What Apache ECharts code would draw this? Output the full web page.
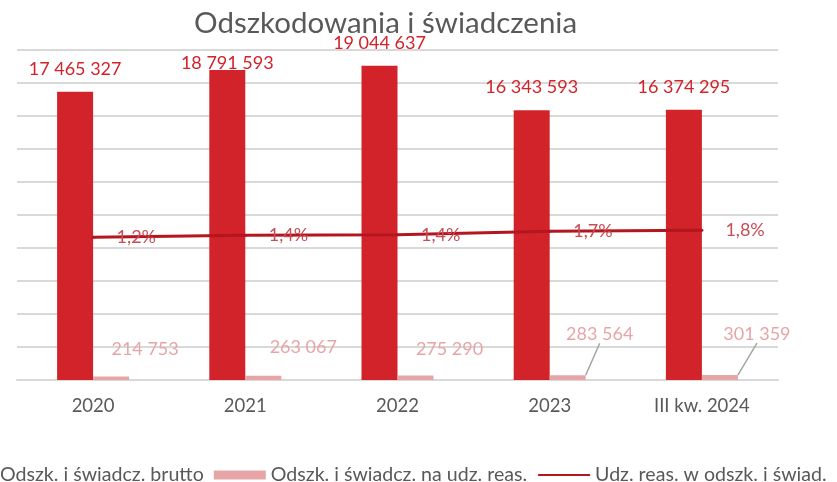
<!DOCTYPE html>
<html>
<head>
<meta charset="utf-8">
<script src="https://cdn.jsdelivr.net/npm/echarts@6/dist/echarts.min.js"></script>
<style>
    html, body { margin: 0; padding: 0; background: #fff; }
    #odszkodowania { width: 837px; height: 482px; }
</style>
</head>
<body>
<div id="odszkodowania"></div>
<script>
// dane
var categories = ['2020', '2021', '2022', '2023', 'III kw. 2024'];
var brutto = [17465327, 18791593, 19044637, 16343593, 16374295];
var naUdzReas = [214753, 263067, 275290, 283564, 301359];
var udzialReas = [1.23, 1.40, 1.44, 1.74, 1.84];
var seriesNames = ['Odszk. i świadcz. brutto', 'Odszk. i świadcz. na udz. reas.', 'Udz. reas. w odszk. i świad.'];

// przesunięcia etykiet (tylko układ)
var bruttoLabelOffset = [[0, 0], [0, 16], [0, 0], [0, 0], [0, 0]];
var reasLabelShift = [[34, -13], [40, -14], [34, -12], [32, -27], [37, -27]];
var reasLabelLine = [false, false, false, true, true];

var FONT = 'Lato';

function fmt(v) {
    return String(v).replace(/\B(?=(\d{3})+(?!\d))/g, ' ');
}

var chart = echarts.init(document.getElementById('odszkodowania'));
var option = {
    animation: false,
    textStyle: { fontFamily: FONT },
    title: {
        text: 'Odszkodowania i świadczenia',
        left: 189,
        top: 3,
        textStyle: { fontFamily: FONT, fontSize: 29.5, fontWeight: 'normal', color: '#595959' }
    },
    legend: {
        left: -62,
        top: 460,
        itemWidth: 52,
        itemHeight: 9,
        itemGap: 10,
        textStyle: { fontFamily: FONT, fontSize: 19.6, color: '#595959' },
        data: [
            { name: seriesNames[0], icon: 'rect' },
            { name: seriesNames[1], icon: 'rect' },
            { name: seriesNames[2], itemStyle: { opacity: 0 } }
        ]
    },
    grid: { left: 17, right: 59, top: 50, bottom: 102 },
    xAxis: {
        type: 'category',
        data: categories,
        axisLine: { lineStyle: { color: '#d9d9d9', width: 2 } },
        axisTick: { show: false },
        axisLabel: { fontFamily: FONT, fontSize: 18.5, color: '#595959', margin: 17 }
    },
    yAxis: [
        {
            type: 'value',
            min: 0,
            max: 20000000,
            interval: 2000000,
            axisLabel: { show: false },
            axisLine: { show: false },
            axisTick: { show: false },
            splitLine: { lineStyle: { color: '#d9d9d9', width: 2 } }
        },
        {
            type: 'value',
            min: -11.1,
            max: 17.4,
            show: false,
            splitLine: { show: false }
        }
    ],
    series: [
        {
            name: seriesNames[0],
            type: 'bar',
            barWidth: 36,
            barGap: '0%',
            itemStyle: { color: '#d2232a' },
            label: {
                show: true,
                position: 'top',
                distance: 14,
                fontFamily: FONT,
                fontSize: 18,
                color: '#d2232a',
                formatter: function (p) { return fmt(p.value); }
            },
            data: brutto.map(function (v, i) {
                return { value: v, label: { offset: bruttoLabelOffset[i] } };
            })
        },
        {
            name: seriesNames[1],
            type: 'bar',
            barWidth: 36,
            barGap: '0%',
            itemStyle: { color: '#e6a5a7' },
            label: {
                show: true,
                position: 'top',
                distance: 5,
                fontFamily: FONT,
                fontSize: 18,
                color: '#e8a5a7',
                formatter: function (p) { return fmt(p.value); }
            },
            labelLine: { show: false, lineStyle: { color: '#a6a6a6', width: 1.5 } },
            labelLayout: function (p) {
                var s = reasLabelShift[p.dataIndex];
                return { dx: s[0], dy: s[1] };
            },
            data: naUdzReas.map(function (v, i) {
                return { value: v, labelLine: { show: reasLabelLine[i] } };
            })
        },
        {
            name: seriesNames[2],
            type: 'line',
            yAxisIndex: 1,
            symbol: 'circle',
            symbolSize: 3,
            itemStyle: { color: '#b3161f' },
            lineStyle: { color: '#b3161f', width: 3 },
            label: {
                show: true,
                position: 'right',
                distance: 22,
                fontFamily: FONT,
                fontSize: 18,
                color: '#c84d57',
                formatter: function (p) { return p.value.toFixed(1).replace('.', ',') + '%'; }
            },
            z: 3,
            data: udzialReas
        }
    ]
};
chart.setOption(option);
window.addEventListener('resize', function () {
    chart.resize();
});
</script>
</body>
</html>
